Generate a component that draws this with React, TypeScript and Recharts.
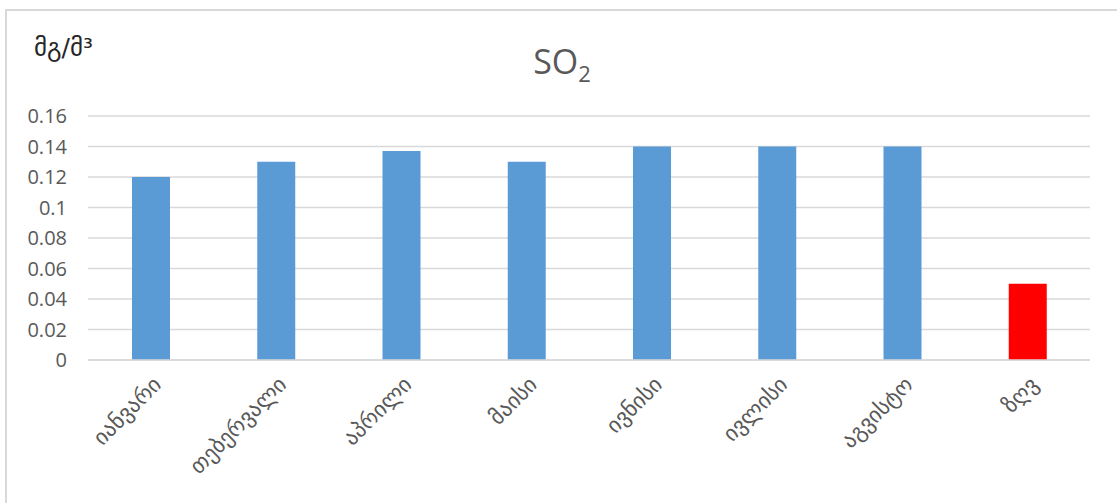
import { Bar, BarChart, CartesianGrid, Cell, XAxis, YAxis } from 'recharts'

// monthly SO2 concentration, last column is the permitted limit
const months = ['იანვარი', 'თებერვალი', 'აპრილი', 'მაისი', 'ივნისი', 'ივლისი', 'აგვისტო', 'ზღვ']
const so2 = [0.12, 0.13, 0.137, 0.13, 0.14, 0.14, 0.14, 0.05]
const yTicks = [0, 0.02, 0.04, 0.06, 0.08, 0.1, 0.12, 0.14, 0.16]

const BLUE = '#5B9BD5'
const RED = '#FF0000'
const GRID = '#D9D9D9'
const LABEL = '#595959'

const data = months.map((m, i) => ({ month: m, value: so2[i] }))

// eslint-disable-next-line @typescript-eslint/no-explicit-any
const MonthTick = (props: any) => {
  const { x, y, payload } = props
  const px = x + 12
  const py = y + 18
  return (
    <text
      x={px}
      y={py}
      transform={`rotate(-45, ${px}, ${py})`}
      textAnchor="end"
      fill={LABEL}
      style={{ fontSize: 22, fontFamily: 'DejaVu Sans' }}
    >
      {payload.value}
    </text>
  )
}

export default function App() {
  return (
    <div style={{ position: 'absolute', left: 0, top: 0, width: 1117, height: 503, background: '#fff' }}>
      <div
        style={{
          position: 'absolute',
          left: 5,
          top: 9,
          width: 1112,
          height: 494,
          borderTop: `2px solid ${GRID}`,
          borderLeft: `2px solid ${GRID}`,
        }}
      />
      <div
        style={{
          position: 'absolute',
          left: 34,
          top: 33,
          fontFamily: 'DejaVu Sans',
          fontSize: 25,
          color: '#262626',
        }}
      >
        მგ/მ³
      </div>
      <div
        style={{
          position: 'absolute',
          left: 0,
          top: 38,
          width: 1124,
          textAlign: 'center',
          fontFamily: 'Open Sans',
          fontSize: 34,
          color: LABEL,
        }}
      >
        SO<sub style={{ fontSize: 22, verticalAlign: '-0.35em' }}>2</sub>
      </div>
      <div style={{ position: 'absolute', left: 0, top: 0 }}>
        <BarChart
          width={1117}
          height={503}
          data={data}
          margin={{ top: 116, right: 27, bottom: 0, left: 0 }}
          barSize={38}
        >
          <CartesianGrid vertical={false} stroke={GRID} strokeWidth={1.5} />
          <XAxis
            dataKey="month"
            height={143}
            interval={0}
            axisLine={{ stroke: GRID, strokeWidth: 1.5 }}
            tickLine={false}
            tick={<MonthTick />}
          />
          <YAxis
            width={88}
            domain={[0, 0.16]}
            ticks={yTicks}
            interval={0}
            axisLine={false}
            tickLine={false}
            tickSize={0}
            tickMargin={21}
            tickFormatter={(v: number) => String(Number(v.toFixed(2)))}
            tick={{ fill: LABEL, fontSize: 20, fontFamily: 'Open Sans' }}
          />
          <Bar dataKey="value" isAnimationActive={false}>
            {data.map((d, i) => (
              <Cell key={d.month} fill={i === data.length - 1 ? RED : BLUE} />
            ))}
          </Bar>
        </BarChart>
      </div>
    </div>
  )
}
